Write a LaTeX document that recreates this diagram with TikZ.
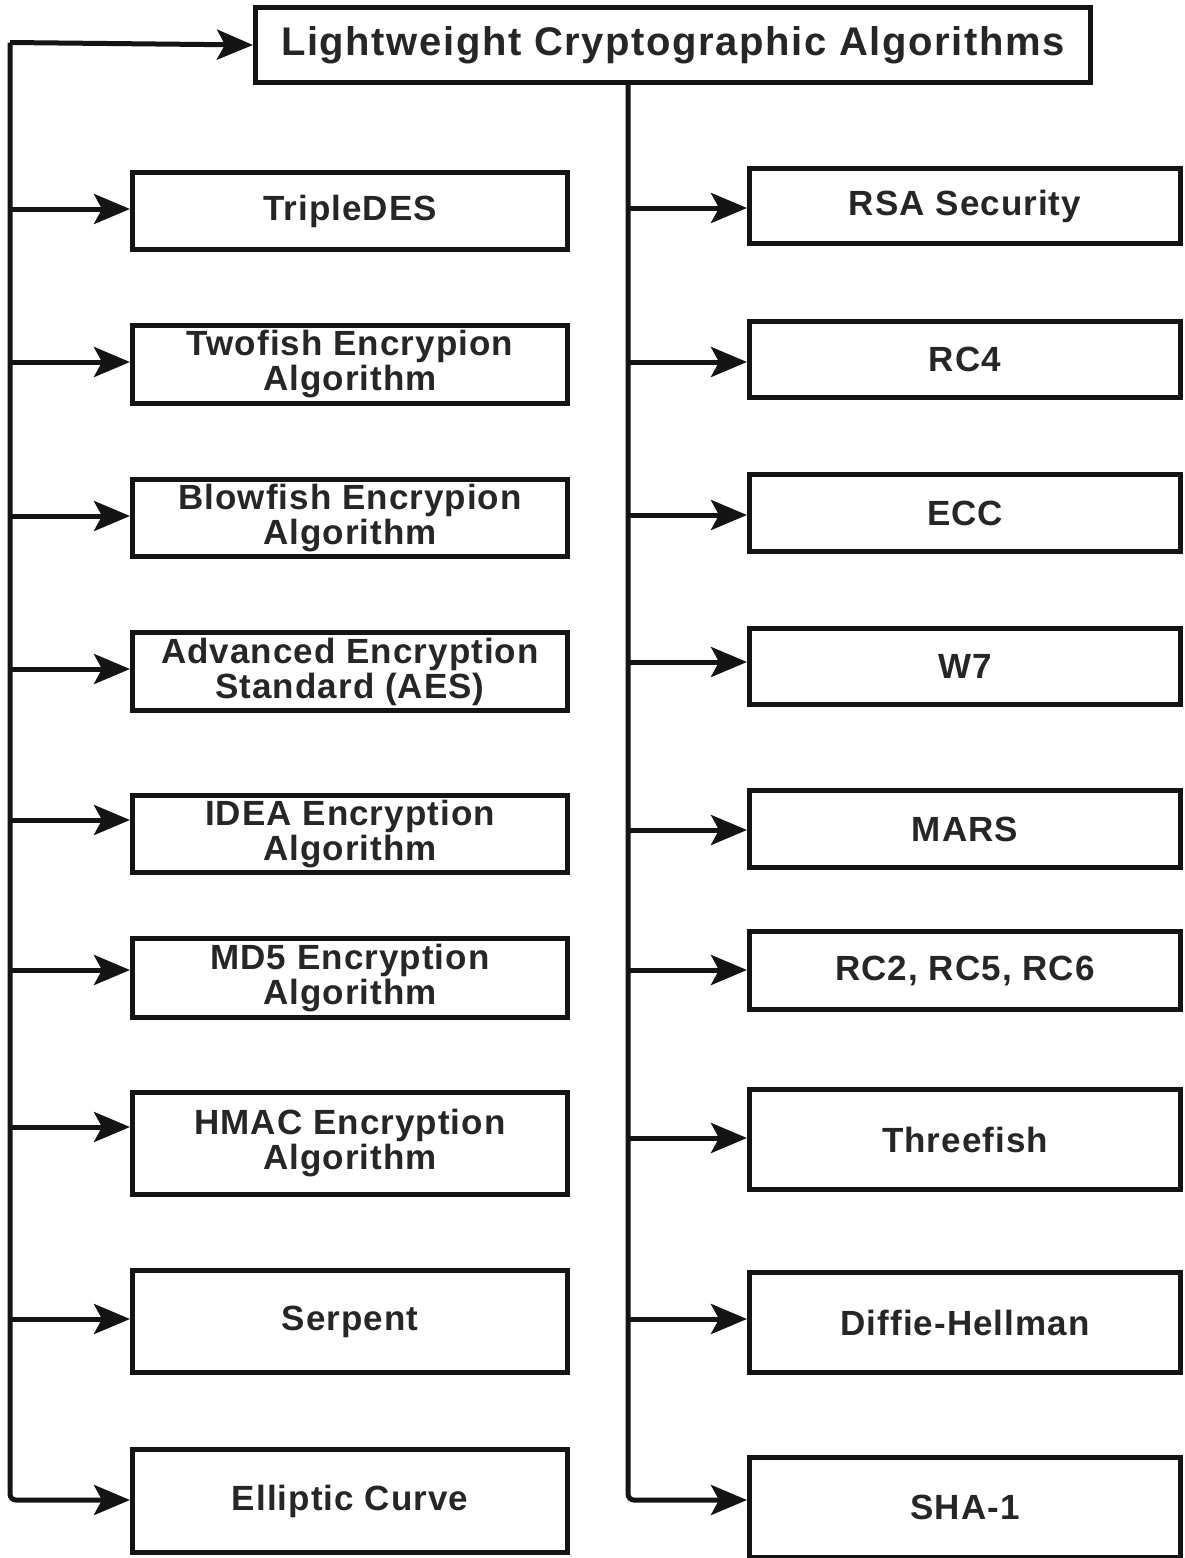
\documentclass[tikz,border=0pt]{standalone}
\usepackage{fontspec}
\setmainfont{Liberation Sans}
\usetikzlibrary{arrows.meta}
\tikzset{
  box/.style={draw=black!92, line width=5pt, rectangle, inner sep=0pt, anchor=north west,
    align=center, text=black!85, font=\bfseries\fontsize{35}{35}\selectfont\addfontfeature{LetterSpace=3}},
  titlebox/.style={box, font=\bfseries\fontsize{40}{40}\selectfont\addfontfeature{LetterSpace=4}},
  arr/.style={draw=black!92, line width=5pt, -{Stealth[length=36pt,width=30pt,inset=8pt]}},
}
\begin{document}
\begin{tikzpicture}[x=1pt,y=-1pt]
\useasboundingbox (0,0) rectangle (1185,1558);
% title
\node[titlebox, minimum width=835pt, minimum height=75pt] (title) at (253,5) {Lightweight Cryptographic Algorithms};
% left column
\node[box, minimum width=435pt, minimum height=77pt]  (b1) at (130,170)  {TripleDES};
\node[box, minimum width=435pt, minimum height=78pt]  (b2) at (130,323)  {Twofish Encrypion\\Algorithm};
\node[box, minimum width=435pt, minimum height=77pt]  (b3) at (130,477)  {Blowfish Encrypion\\Algorithm};
\node[box, minimum width=435pt, minimum height=78pt]  (b4) at (130,630)  {Advanced Encryption\\Standard (AES)};
\node[box, minimum width=435pt, minimum height=77pt]  (b5) at (130,793)  {IDEA Encryption\\Algorithm};
\node[box, minimum width=435pt, minimum height=79pt]  (b6) at (130,936)  {MD5 Encryption\\Algorithm};
\node[box, minimum width=435pt, minimum height=102pt] (b7) at (130,1090) {HMAC Encryption\\Algorithm};
\node[box, minimum width=435pt, minimum height=102pt] (b8) at (130,1268) {Serpent};
\node[box, minimum width=435pt, minimum height=103pt] (b9) at (130,1447) {Elliptic Curve};
% right column
\node[box, minimum width=431pt, minimum height=75pt]  (r1) at (747,166)  {RSA Security};
\node[box, minimum width=431pt, minimum height=76pt]  (r2) at (747,319)  {RC4};
\node[box, minimum width=431pt, minimum height=77pt]  (r3) at (747,472)  {ECC};
\node[box, minimum width=431pt, minimum height=76pt]  (r4) at (747,626)  {W7};
\node[box, minimum width=431pt, minimum height=77pt]  (r5) at (747,788)  {MARS};
\node[box, minimum width=431pt, minimum height=78pt]  (r6) at (747,929)  {RC2, RC5, RC6};
\node[box, minimum width=431pt, minimum height=100pt] (r7) at (747,1087) {Threefish};
\node[box, minimum width=431pt, minimum height=100pt] (r8) at (747,1270) {Diffie-Hellman};
\node[box, minimum width=431pt, minimum height=100pt] (r9) at (747,1455) {SHA-1};
% trunk coordinates
\coordinate (Ltop) at (10,42.5);
\coordinate (L1) at (10,209);
\coordinate (L2) at (10,362);
\coordinate (L3) at (10,516);
\coordinate (L4) at (10,669);
\coordinate (L5) at (10,820);
\coordinate (L6) at (10,970);
\coordinate (L7) at (10,1127);
\coordinate (L8) at (10,1319);
\coordinate (L9) at (10,1500);
\coordinate (Rtop) at (628,80);
\coordinate (R1) at (628,208);
\coordinate (R2) at (628,362);
\coordinate (R3) at (628,515);
\coordinate (R4) at (628,662);
\coordinate (R5) at (628,830);
\coordinate (R6) at (628,970);
\coordinate (R7) at (628,1138);
\coordinate (R8) at (628,1319);
\coordinate (R9) at (628,1500);
% connectors
\draw[arr] (Ltop) -- (title.west);
\draw[arr, rounded corners=6pt] (Ltop) -- (L9) -- (L9 -| b9.west);
\foreach \i in {1,...,8} {\draw[arr] (L\i) -- (L\i -| b\i.west);}
\draw[arr, rounded corners=6pt] (Rtop) -- (R9) -- (R9 -| r9.west);
\foreach \i in {1,...,8} {\draw[arr] (R\i) -- (R\i -| r\i.west);}
\end{tikzpicture}
\end{document}
